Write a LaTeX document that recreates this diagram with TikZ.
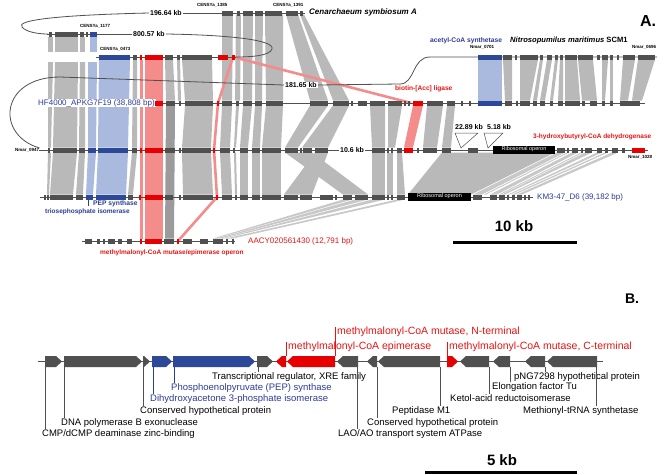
\documentclass[tikz,border=0pt]{standalone}
\usepackage{fontspec}
\setmainfont{Liberation Sans}
\definecolor{genec}{RGB}{80,80,80}
\definecolor{bandc}{RGB}{185,185,185}
\definecolor{bandd}{RGB}{155,155,155}
\definecolor{bandl}{RGB}{200,200,200}
\definecolor{blueb}{RGB}{170,186,222}
\definecolor{blueg}{RGB}{45,72,150}
\definecolor{redg}{RGB}{230,0,0}
\definecolor{pinkb}{RGB}{244,140,140}
\definecolor{lblue}{RGB}{45,60,150}
\definecolor{lred}{RGB}{230,20,20}
\newcommand\grow[3]{\foreach \a/\b in {#3}{\fill[#2] (\a,#1-2.5) rectangle (\b,#1+2.5);}}
\newcommand\gbands[4]{\foreach \a/\b/\c/\d in {#4}{\fill[#3] (\a,#1) -- (\b,#1) -- (\d,#2) -- (\c,#2) -- cycle;}}
\newcommand\rarr[3]{\fill[#3] (#1,356) -- ({#2-6},356) -- (#2,361.5) -- ({#2-6},367) -- (#1,367) -- cycle;}
\newcommand\larr[3]{\fill[#3] (#2,356) -- ({#1+6},356) -- (#1,361.5) -- ({#1+6},367) -- (#2,367) -- cycle;}
\begin{document}
\begin{tikzpicture}[x=1pt,y=-1pt,
  lbl/.style={inner sep=0pt, anchor=west},
  fs/.style={font=\fontsize{#1}{#1}\selectfont},
  fsb/.style={font=\fontsize{#1}{#1}\selectfont\bfseries},
  bb/.style={draw=genec, line width=0.8pt},
  pl/.style={draw=pinkb, line width=2.6pt},
  tick/.style={draw=genec, line width=0.7pt},
  btick/.style={draw=lblue, line width=0.7pt},
  rtick/.style={draw=lred, line width=0.7pt},
  ribo/.style={fill=black, text=white, font=\fontsize{5.5}{5.5}\selectfont, minimum width=62pt, minimum height=8pt, inner sep=0pt},
  tri/.style={draw=genec, fill=white, line width=0.5pt}]
\useasboundingbox (0,0) rectangle (666,474);
\fill[white] (0,0) rectangle (666,474);

% ---------- homology bands ----------
\gbands{14.5}{100.5}{bandc}{222/233/222/232, 236/241/235/240, 243/253/243/252, 255/263/255/262, 265/283/266/283, 286/298/310/328, 300/304/333/349}
\gbands{36.5}{52}{bandc}{48/53/48/53, 55/78/55/78, 80/85/80/85}
\gbands{36.5}{52}{blueb}{90/97/90/97}
\gbands{62}{147.5}{bandc}{48/53/48/51, 55/78/53/77, 80/85/79/85}
\gbands{62}{147.5}{blueb}{88/97/88/96}
\gbands{59.5}{147.5}{blueb}{99/130/98/128}
\gbands{59.5}{147.5}{bandc}{133/137/132/137}
\gbands{59.5}{238.5}{pinkb}{140/143/140/143, 145/163/145/163}
\gbands{59.5}{100.5}{bandc}{165/173/166/175, 177/180/178/181, 182/212/185/213}
\gbands{105.5}{238.5}{bandd}{166/175/165/174}
\gbands{105.5}{147.5}{bandc}{185/213/182/211, 222/232/220/230, 236/239/234/236, 243/252/240/248, 255/262/252/260, 266/283/262/281, 310/328/285/298, 333/349/302/328, 370/385/372/385, 388/402/388/395, 427/443/423/437, 447/455/442/451}
\gbands{105.5}{147.5}{pinkb}{413/423/404/413}
\gbands{152.5}{194.5}{bandc}{48/51/47/49, 53/77/50/73, 79/85/76/83, 132/137/128/133, 182/211/183/213, 220/230/222/232, 234/236/235/237, 240/248/240/248, 252/260/252/260, 262/281/262/281, 285/312/343/368, 315/328/284/312, 372/385/372/385, 387/393/387/393, 397/402/397/405}
\gbands{152.5}{194.5}{blueb}{88/96/86/93, 98/128/96/126}
\gbands{152.5}{194.5}{bandc}{442/555/408/471}
\gbands{152.5}{194.5}{bandl}{557/565/473/482, 567/569/484/486, 572/578/490/497, 581/583/499/501, 585/592/502/505, 597/602/508/510, 605/608/512/515, 612/618/517/522}
\gbands{199.5}{238.5}{bandl}{343/352/213/216, 355/368/217/220, 372/385/221/224, 397/405/226/233}
\gbands{59.5}{100.5}{blueb}{478/502/478/502}
\gbands{59.5}{100.5}{bandc}{503/512/505/512, 520/538/520/530, 540/543/533/537, 547/552/540/545, 555/558/550/553, 560/563/558/563, 565/577/565/580, 578/593/582/597, 602/608/602/605, 610/613/610/613, 623/635/620/628, 638/655/632/642}

% ---------- pink connector lines ----------
\draw[pl] (233,57) -- (218,103) -- (214,150) -- (217,197) -- (178,241);
\draw[pl] (233,57) -- (411,103);

% ---------- labels on lines ----------
\node[lbl,fsb=7,fill=white,inner xsep=1pt] (kb196) at (149,13) {196.64 kb};
\node[lbl,fsb=7,fill=white,inner xsep=1pt] (kb800) at (132,34) {800.57 kb};
\node[lbl,fsb=7,fill=white,inner xsep=1pt] (kb181) at (284,85) {181.65 kb};
\node[lbl,fsb=7,fill=white,inner xsep=1pt] (kb106) at (339,150) {10.6 kb};
\node[lbl,fs=8,text=lblue,fill=white,inner xsep=1pt] (hf) at (37,103) {HF4000\_APKG7F19 (38,808 bp)};
\node[lbl,fsb=4.5] (n0947) at (15,150) {Nmar\_0947};

% ---------- backbones ----------
\draw[bb] (kb196.west) .. controls (60,15) and (15,20) .. (22,27) .. controls (26,32) and (38,34) .. (48,34);
\draw[bb] (kb196.east) -- (305,13);
\draw[bb] (47,34) -- (kb800.west);
\draw[bb] (kb800.east) .. controls (230,35) and (275,40) .. (272,49) .. controls (270,56) and (250,57) .. (236,57);
\draw[bb] (96,57) -- (236,57);
\draw[bb] (kb181.west) -- (60,77) .. controls (0,77) and (-5,135) .. (n0947.north east);
\draw[bb] (kb181.east) -- (400,84) .. controls (415,84) and (412,57) .. (430,57) -- (657,57);
\draw[bb] (hf.east) -- (645,103);
\draw[bb] (n0947.east) -- (kb106.west);
\draw[bb] (kb106.east) -- (648,150);
\draw[bb] (40,197) -- (533,197);
\draw[bb] (82,241) -- (235,241);

% ---------- genes ----------
\grow{13}{genec}{222/233, 237/240, 243/253, 255/263, 265/282, 286/298, 300/303}
\grow{34}{genec}{49/52, 55/78, 80/84, 86/88}
\grow{34}{blueg}{90/97}
\grow{57}{blueg}{99/130}
\grow{57}{genec}{133/137, 165/173, 177/180, 182/212}
\grow{57}{redg}{140/142, 145/163, 218/228, 232/235}
\grow{103}{redg}{155/163, 217/219, 413/423}
\grow{103}{genec}{166/175, 179/181, 185/213, 222/232, 236/239, 243/252, 255/262, 266/283, 310/328, 333/349, 351/353, 358/367, 370/385, 388/402, 404/406, 408/410, 427/443, 447/455, 461/463, 469/471, 505/512, 516/518, 520/530, 533/537, 540/545, 550/553, 558/563, 565/580, 582/585, 590/597, 602/605, 610/613, 620/640}
\grow{103}{blueg}{478/502}
\grow{57}{blueg}{478/502}
\grow{57}{genec}{503/512, 515/517, 520/538, 540/543, 547/552, 555/558, 560/563, 565/577, 578/593, 597/600, 602/608, 610/613, 617/619, 623/635, 638/655}
\grow{150}{genec}{48/50, 53/77, 79/85, 132/137, 165/175, 179/181, 182/211, 220/230, 233/235, 240/248, 252/260, 262/281, 285/298, 300/302, 303/312, 315/328, 372/385, 387/389, 391/393, 397/402, 417/419, 423/437, 442/451, 468/478, 557/565, 567/569, 572/578, 581/583, 585/592, 597/602, 605/608, 612/618, 622/625}
\grow{150}{blueg}{88/96, 98/128}
\grow{150}{redg}{140/142, 145/163, 213/215, 404/413, 632/645}
\grow{197}{genec}{44/46, 47/49, 50/73, 76/83, 128/133, 165/173, 179/181, 183/213, 222/232, 235/237, 240/248, 252/260, 262/281, 284/298, 300/312, 320/333, 335/337, 343/352, 355/368, 372/385, 387/389, 391/393, 397/405, 473/482, 490/497, 499/505, 507/509, 512/515, 517/522, 524/526, 528/530}
\grow{197}{blueg}{86/93, 96/126}
\grow{197}{redg}{139/141, 145/163, 216/218}
\grow{241}{genec}{85/92, 97/100, 103/105, 108/115, 118/122, 127/132, 164/174, 183/192, 200/208, 213/223, 226/228, 232/234}
\grow{241}{redg}{140/142, 145/162, 177/179}

% insertion triangles
\draw[tri] (455,133) -- (478,133) -- (461,148) -- cycle;
\draw[tri] (484,133) -- (503,133) -- (488,148) -- cycle;

% ribosomal operons
\node[ribo] (rib1) at (524,149.5) {Ribosomal operon};
\node[ribo,minimum width=63pt] (rib2) at (439.5,196.5) {Ribosomal operon};

% ---------- other labels, part A ----------
\node[lbl,fsb=4.5] (c1385) at (197,5) {CENSYa\_1385};
\node[lbl,fsb=4.5] (c1391) at (273,5) {CENSYa\_1391};
\node[lbl,fsb=4.5] (c1177) at (80,26) {CENSYa\_1177};
\node[lbl,fsb=4.5] (c0473) at (100,49) {CENSYa\_0473};
\node[lbl,font=\fontsize{8}{8}\selectfont\bfseries\itshape] (cen) at (309,12) {Cenarchaeum symbiosum A};
\node[lbl,fsb=6.7,text=lblue] (acs) at (430,41) {acetyl-CoA synthetase};
\node[lbl,fsb=4.5] (n0701) at (470,47) {Nmar\_0701};
\node[lbl,font=\fontsize{7.6}{7.6}\selectfont\bfseries\itshape] (nit) at (510,41) {Nitrosopumilus maritimus {\upshape SCM1}};
\node[lbl,fsb=4.5] (n0696) at (632,47) {Nmar\_0696};
\node[fsb=16,inner sep=0pt] (Alab) at (648,21) {A.};
\node[lbl,fsb=6.6,text=lred] (bio) at (395,89) {biotin-[Acc] ligase};
\node[lbl,fsb=7] (kb22) at (455,127) {22.89 kb};
\node[lbl,fsb=7] (kb5) at (487,127) {5.18 kb};
\node[lbl,fsb=6.5,text=lred] (hbd) at (533,137) {3-hydroxybutyryl-CoA dehydrogenase};
\node[lbl,fsb=4.5] (n1028) at (628,157) {Nmar\_1028};
\node[lbl,fs=8,text=lblue] (km3) at (537,197) {KM3-47\_D6 (39,182 bp)};
\node[lbl,fsb=6.7,text=lblue] (pep) at (93,204) {PEP synthase};
\node[lbl,fsb=6.5,text=lblue] (tpi) at (45,212) {triosephosphate isomerase};
\draw[btick] (88,199.5) -- (88,206);
\node[lbl,fs=8,text=lred] (aacy) at (248,241) {AACY020561430 (12,791 bp)};
\node[lbl,fsb=6.5,text=lred] (mmop) at (100,253) {methylmalonyl-CoA mutase/epimerase operon};
\node[fsb=15,inner sep=0pt] (kb10) at (514,226) {10 kb};
\coordinate (sa1) at (453,242);
\coordinate (sa2) at (577,242);
\draw[line width=3pt] (sa1) -- (sa2);

% ---------- part B ----------
\node[fsb=14,inner sep=0pt] (Blab) at (632,299) {B.};
\draw[genec, line width=1.8pt] (38,361.5) -- (603,361.5);
\rarr{45}{62}{genec}
\rarr{64}{142}{genec}
\rarr{143}{150}{genec}
\rarr{152}{172}{blueg}
\rarr{173}{255}{blueg}
\rarr{257}{273}{genec}
\larr{276}{286}{redg}
\larr{287}{335}{redg}
\larr{337}{358}{genec}
\larr{367}{377}{genec}
\larr{378}{440}{genec}
\rarr{447}{458}{redg}
\larr{460}{489}{genec}
\larr{493}{510}{genec}
\larr{525}{545}{genec}
\larr{547}{597}{genec}

\node[lbl,fs=10.5,text=lred] (mmn) at (337,332) {methylmalonyl-CoA mutase, N-terminal};
\node[lbl,fs=10.5,text=lred] (mme) at (288,347) {methylmalonyl-CoA epimerase};
\node[lbl,fs=10.5,text=lred] (mmc) at (449,347) {methylmalonyl-CoA mutase, C-terminal};
\draw[rtick] (335,356) -- (335,0 |- mmn.north);
\draw[rtick] (286,356) -- (286,0 |- mme.north);
\draw[rtick] (447,356) -- (447,0 |- mmc.north);

\node[lbl,fs=9.5] (xre) at (212,377) {Transcriptional regulator, XRE family};
\node[lbl,fs=9.5,text=lblue] (peps) at (171,388) {Phosphoenolpyruvate (PEP) synthase};
\node[lbl,fs=9.5,text=lblue] (dhap) at (150,399) {Dihydroxyacetone 3-phosphate isomerase};
\node[lbl,fs=9.5] (chp1) at (140,411) {Conserved hypothetical protein};
\node[lbl,fs=9.5] (dnap) at (61,423) {DNA polymerase B exonuclease};
\node[lbl,fs=9.5] (cmp) at (42,434) {CMP/dCMP deaminase zinc-binding};
\node[lbl,fs=9.5] (lao) at (338,434) {LAO/AO transport system ATPase};
\node[lbl,fs=9.5] (chp2) at (367,423) {Conserved hypothetical protein};
\node[lbl,fs=9.5] (pep1) at (392,411) {Peptidase M1};
\node[lbl,fs=9.5] (kari) at (450,398) {Ketol-acid reductoisomerase};
\node[lbl,fs=9.5] (eftu) at (492,387) {Elongation factor Tu};
\node[lbl,fs=9.5] (png) at (514,377) {pNG7298 hypothetical protein};
\node[lbl,fs=9.5] (metrs) at (523,411) {Methionyl-tRNA synthetase};

\draw[tick] (45,367) -- (45,0 |- cmp.north);
\draw[tick] (64,367) -- (64,0 |- dnap.north);
\draw[tick] (143,367) -- (143,0 |- chp1.north);
\draw[btick] (153,367) -- (153,0 |- dhap.north);
\draw[btick] (174,367) -- (174,0 |- peps.north);
\draw[tick] (258,367) -- (258,0 |- xre.north);
\draw[tick] (357,367) -- (357,0 |- lao.north);
\draw[tick] (377,367) -- (377,0 |- chp2.north);
\draw[tick] (440,367) -- (440,0 |- pep1.north);
\draw[tick] (489,367) -- (489,0 |- kari.north);
\draw[tick] (510,367) -- (510,0 |- eftu.north);
\draw[tick] (545,367) -- (545,0 |- png.north);
\draw[tick] (596,367) -- (596,0 |- metrs.north);

\node[fsb=15,inner sep=0pt] (kb5b) at (502,460) {5 kb};
\coordinate (sb1) at (425,472);
\coordinate (sb2) at (577,472);
\draw[line width=3pt] (sb1) -- (sb2);
\end{tikzpicture}
\end{document}
